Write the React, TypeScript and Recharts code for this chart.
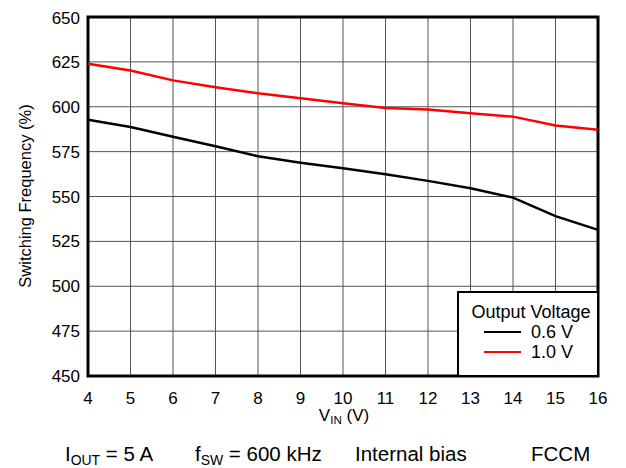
import React from "react";
import { LineChart, Line, XAxis, YAxis, CartesianGrid, ReferenceArea, Legend } from "recharts";

const vin = [4, 5, 6, 7, 8, 9, 10, 11, 12, 13, 14, 15, 16];
const freq06 = [592.7, 588.7, 583.3, 578, 572.4, 568.8, 565.7, 562.4, 558.7, 554.6, 549.4, 539.1, 531.4];
const freq10 = [623.9, 620.2, 614.7, 610.9, 607.5, 604.8, 602, 599.3, 598.4, 596.4, 594.5, 589.6, 587.2];
const xTicks = [4, 5, 6, 7, 8, 9, 10, 11, 12, 13, 14, 15, 16];
const yTicks = [450, 475, 500, 525, 550, 575, 600, 625, 650];

const data = vin.map((v, i) => ({ vin: v, v06: freq06[i], v10: freq10[i] }));

const font = '"Liberation Sans", Arial, sans-serif';
const sub: React.CSSProperties = { fontSize: "0.68em", position: "relative", top: "0.3em" };

const renderLegend = (props: any) => (
  <div
    style={{
      width: 142,
      height: 86,
      boxSizing: "border-box",
      border: "2px solid #000",
      background: "#fff",
      fontFamily: font,
      fontSize: 18,
      lineHeight: "20px",
      paddingTop: 9,
      color: "#000",
    }}
  >
    <div style={{ textAlign: "center", paddingLeft: 6 }}>Output Voltage</div>
    {(props.payload || []).map((p: any) => (
      <div key={p.value} style={{ display: "flex", alignItems: "center", paddingLeft: 25 }}>
        <span style={{ display: "inline-block", width: 37, height: 2.5, background: p.color, marginRight: 10 }} />
        <span>{p.value}</span>
      </div>
    ))}
  </div>
);

export default function App() {
  return (
    <div style={{ position: "relative", width: 610, height: 460, fontFamily: font, color: "#000" }}>
      <LineChart width={610} height={410} data={data} margin={{ top: 9, right: 20, bottom: 0, left: 0 }}>
        <CartesianGrid stroke="#555" strokeWidth={1} />
        <XAxis
          dataKey="vin"
          type="number"
          domain={[4, 16]}
          ticks={xTicks}
          tickLine={false}
          axisLine={false}
          tickMargin={10}
          height={42}
          tick={{ fontSize: 17, fill: "#000", fontFamily: font }}
        />
        <YAxis
          type="number"
          domain={[450, 650]}
          ticks={yTicks}
          tickLine={false}
          axisLine={false}
          width={80}
          tick={{ fontSize: 17, fill: "#000", fontFamily: font }}
        />
        <Line type="linear" dataKey="v06" name="0.6 V" stroke="#000" strokeWidth={2.5} dot={false} isAnimationActive={false} />
        <Line type="linear" dataKey="v10" name="1.0 V" stroke="#ff0000" strokeWidth={2.5} dot={false} isAnimationActive={false} />
        <ReferenceArea x1={4} x2={16} y1={450} y2={650} fill="none" stroke="#000" strokeWidth={3} />
        <Legend
          layout="horizontal"
          verticalAlign="middle"
          align="center"
          content={renderLegend}
          wrapperStyle={{ left: 449, top: 283, width: 142, height: 86 }}
        />
      </LineChart>
      <div
        style={{
          position: "absolute",
          left: 17 - 150,
          top: 188 - 10,
          width: 300,
          textAlign: "center",
          fontSize: 16.5,
          lineHeight: "20px",
          transform: "rotate(-90deg)",
        }}
      >
        Switching Frequency (%)
      </div>
      <div style={{ position: "absolute", left: 286, top: 398, width: 100, textAlign: "center", fontSize: 17, lineHeight: "20px" }}>
        V<span style={sub}>IN</span> (V)
      </div>
      <div style={{ position: "absolute", left: 57, top: 435, fontSize: 20.5, lineHeight: "22px", whiteSpace: "nowrap" }}>
        I<span style={sub}>OUT</span> = 5 A
      </div>
      <div style={{ position: "absolute", left: 187, top: 435, fontSize: 20.5, lineHeight: "22px", whiteSpace: "nowrap" }}>
        f<span style={sub}>SW</span> = 600 kHz
      </div>
      <div style={{ position: "absolute", left: 347, top: 435, fontSize: 20.5, lineHeight: "22px", whiteSpace: "nowrap" }}>
        Internal bias
      </div>
      <div style={{ position: "absolute", left: 523, top: 435, fontSize: 20.5, lineHeight: "22px", whiteSpace: "nowrap" }}>
        FCCM
      </div>
    </div>
  );
}
